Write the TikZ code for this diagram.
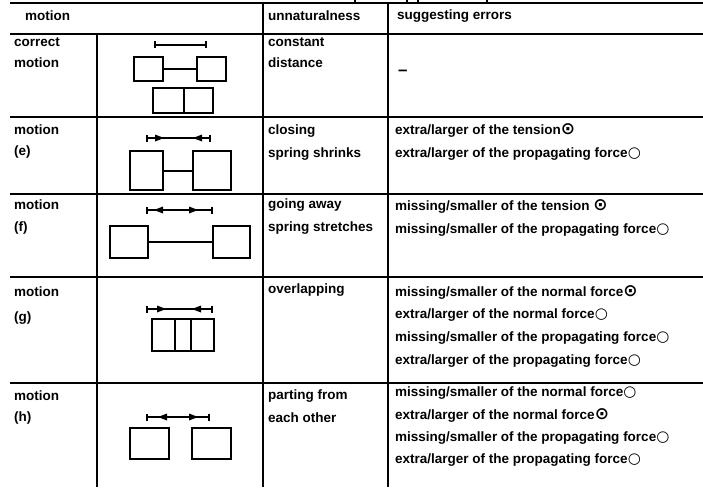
\documentclass[tikz,border=0pt]{standalone}
\usepackage{fontspec}
\setmainfont{Liberation Sans}
\newfontfamily\symfont{DejaVu Sans}
\newcommand{\dotmark}{{\symfont\bfseries\fontsize{17}{17}\selectfont ⊙}}
\newcommand{\ringmark}{{\symfont\bfseries\fontsize{15}{15}\selectfont ○}}
\usetikzlibrary{arrows.meta}
\begin{document}
\begin{tikzpicture}[x=1pt,y=-1pt,
  rule/.style={line width=2.2pt},
  lbl/.style={anchor=west,inner sep=0pt,font=\bfseries\fontsize{13.5}{15}\selectfont},
  blk/.style={draw,line width=2pt,inner sep=0pt},
  link/.style={line width=2pt},
  dimbar/.style={line width=1.6pt,{Bar[width=7pt,line width=1.6pt]}-{Bar[width=7pt,line width=1.6pt]}},
  tri/.style={fill=black}]
\useasboundingbox (0,0) rectangle (703,487);

% ---- table rules ----
\draw[rule] (10,3) -- (703,3);
\foreach \x in {355,407,418,487} \draw[line width=1.4pt] (\x,0) -- (\x,3);
\draw[rule] (10,34) -- (703,34);
\foreach \y in {117,194,277,383} \draw[rule] (10,\y) -- (703,\y);
\draw[rule] (97,34) -- (97,487);
\draw[rule] (263,3) -- (263,487);
\draw[rule] (388,3) -- (388,487);

% ---- header ----
\node[lbl] (h1) at (25,16) {motion};
\node[lbl] (h2) at (268,16) {unnaturalness};
\node[lbl] (h3) at (397,16) {suggesting errors};

% ---- correct motion ----
\node[lbl] (c1) at (14,42) {correct};
\node[lbl] (c2) at (14,63) {motion};
\node[lbl] (c3) at (268,42) {constant};
\node[lbl] (c4) at (268,63) {distance};
\node[lbl,font=\bfseries\fontsize{17}{17}\selectfont] (c5) at (398,73) {–};
\coordinate (cba) at (154,45); \coordinate (cbb) at (207,45);
\draw[dimbar] (cba) -- (cbb);
\node[blk,minimum width=29pt,minimum height=24pt] (cl) at (148.5,69) {};
\node[blk,minimum width=29pt,minimum height=24pt] (cr) at (211.5,69) {};
\draw[link] (cl.east) -- (cr.west);
\node[blk,minimum width=31pt,minimum height=25pt] (cp1) at (168.5,100.5) {};
\node[blk,minimum width=29pt,minimum height=25pt] (cp2) at (198.5,100.5) {};

% ---- motion (e) ----
\node[lbl] (e1) at (14,130) {motion};
\node[lbl] (e2) at (14,152) {(e)};
\node[lbl] (e3) at (268,131) {closing};
\node[lbl] (e4) at (268,154) {spring shrinks};
\node[lbl] (e5) at (395,130) {extra/larger of the tension\dotmark};
\node[lbl] (e6) at (395,154) {extra/larger of the propagating force\ringmark};
\coordinate (eba) at (146,138); \coordinate (ebb) at (211,138);
\draw[dimbar] (eba) -- (ebb);
\fill[tri] (155,134.5) -- (164,138) -- (155,141.5) -- cycle;
\fill[tri] (202,134.5) -- (193,138) -- (202,141.5) -- cycle;
\node[blk,minimum width=33pt,minimum height=39pt] (el) at (146.5,170.5) {};
\node[blk,minimum width=38pt,minimum height=39pt] (er) at (212,170.5) {};
\draw[link] (el.east) -- (er.west);

% ---- motion (f) ----
\node[lbl] (f1) at (14,205) {motion};
\node[lbl] (f2) at (14,228) {(f)};
\node[lbl] (f3) at (268,205) {going away};
\node[lbl] (f4) at (268,228) {spring stretches};
\node[lbl] (f5) at (395,206) {missing/smaller of the tension \dotmark};
\node[lbl] (f6) at (395,230) {missing/smaller of the propagating force\ringmark};
\coordinate (fba) at (146,210); \coordinate (fbb) at (213,210);
\draw[dimbar] (fba) -- (fbb);
\fill[tri] (163,206.5) -- (154,210) -- (163,213.5) -- cycle;
\fill[tri] (189,206.5) -- (198,210) -- (189,213.5) -- cycle;
\node[blk,minimum width=38pt,minimum height=32pt] (fl) at (129,242) {};
\node[blk,minimum width=37pt,minimum height=32pt] (fr) at (231.5,242) {};
\draw[link] (fl.east) -- (fr.west);

% ---- motion (g) ----
\node[lbl] (g1) at (14,292) {motion};
\node[lbl] (g2) at (14,318) {(g)};
\node[lbl] (g3) at (268,290) {overlapping};
\node[lbl] (g4) at (395,292) {missing/smaller of the normal force\dotmark};
\node[lbl] (g5) at (395,315) {extra/larger of the normal force\ringmark};
\node[lbl] (g6) at (395,338) {missing/smaller of the propagating force\ringmark};
\node[lbl] (g7) at (395,361) {extra/larger of the propagating force\ringmark};
\coordinate (gba) at (146,309); \coordinate (gbb) at (213,309);
\draw[dimbar] (gba) -- (gbb);
\fill[tri] (157,305.5) -- (166,309) -- (157,312.5) -- cycle;
\fill[tri] (201,305.5) -- (192,309) -- (201,312.5) -- cycle;
\node[blk,minimum width=23pt,minimum height=32pt] (ga) at (163.5,335) {};
\node[blk,minimum width=16pt,minimum height=32pt] (gb) at (183,335) {};
\node[blk,minimum width=23pt,minimum height=32pt] (gc) at (202.5,335) {};

% ---- motion (h) ----
\node[lbl] (k1) at (14,396) {motion};
\node[lbl] (k2) at (14,418) {(h)};
\node[lbl] (k3) at (268,396) {parting from};
\node[lbl] (k4) at (268,418) {each other};
\node[lbl] (k5) at (395,393) {missing/smaller of the normal force\ringmark};
\node[lbl] (k6) at (395,415) {extra/larger of the normal force\dotmark};
\node[lbl] (k7) at (395,438) {missing/smaller of the propagating force\ringmark};
\node[lbl] (k8) at (395,460) {extra/larger of the propagating force\ringmark};
\coordinate (kba) at (146,417); \coordinate (kbb) at (210,417);
\draw[dimbar] (kba) -- (kbb);
\fill[tri] (167,413.5) -- (158,417) -- (167,420.5) -- cycle;
\fill[tri] (189,413.5) -- (198,417) -- (189,420.5) -- cycle;
\node[blk,minimum width=39pt,minimum height=31pt] (kl) at (149.5,443.5) {};
\node[blk,minimum width=39pt,minimum height=31pt] (kr) at (211.5,443.5) {};
\end{tikzpicture}
\end{document}
